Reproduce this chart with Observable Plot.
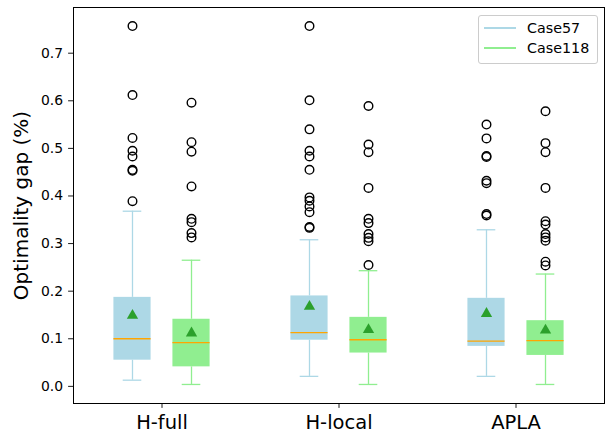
<!DOCTYPE html>
<html>
<head>
<meta charset="utf-8">
<script src="https://cdn.jsdelivr.net/npm/d3@7"></script>
<script src="https://cdn.jsdelivr.net/npm/@observablehq/plot@0.6"></script>
<style>
  body { margin: 0; background: #fff; }
  #wrap { position: relative; width: 608px; height: 437px; font-family: "DejaVu Sans", sans-serif; }
  #legend { position: absolute; left: 478px; top: 15px; width: 118px; height: 47px;
    border: 1px solid #cccccc; border-radius: 3px; background: rgba(255,255,255,0.8); }
  .lg-row { position: absolute; left: 5px; height: 20px; display: flex; align-items: center; }
  .lg-line { width: 32px; height: 2px; margin-right: 11px; }
  .lg-text { font-size: 14.3px; color: #000; }
</style>
</head>
<body>
<div id="wrap"><div id="legend"></div></div>
<script>
const groups = ["H-full", "H-local", "APLA"];
const cases = ["Case57", "Case118"];
const caseColors = ["#add8e6", "#90ee90"];
const yTicks = [0, 0.1, 0.2, 0.3, 0.4, 0.5, 0.6, 0.7];

// statistics per group: [Case57, Case118]
const whiskerLow = [[0.013, 0.004], [0.021, 0.004], [0.021, 0.004]];
const q1         = [[0.055, 0.041], [0.097, 0.070], [0.084, 0.065]];
const median     = [[0.100, 0.092], [0.113, 0.098], [0.095, 0.096]];
const q3         = [[0.187, 0.141], [0.190, 0.145], [0.185, 0.138]];
const whiskerHigh= [[0.368, 0.265], [0.308, 0.243], [0.329, 0.236]];
const means      = [[0.152, 0.115], [0.171, 0.122], [0.156, 0.121]];
const outliers = [
  [[0.757, 0.612, 0.522, 0.495, 0.483, 0.455, 0.453, 0.389],
   [0.596, 0.513, 0.493, 0.420, 0.352, 0.345, 0.322, 0.313]],
  [[0.757, 0.601, 0.540, 0.495, 0.483, 0.455, 0.397, 0.390, 0.378, 0.366, 0.335, 0.333],
   [0.589, 0.508, 0.492, 0.417, 0.352, 0.343, 0.320, 0.312, 0.305, 0.255]],
  [[0.550, 0.521, 0.484, 0.482, 0.432, 0.427, 0.362, 0.359],
   [0.578, 0.511, 0.492, 0.417, 0.347, 0.340, 0.320, 0.313, 0.306, 0.262, 0.254]]
];

const offset = 0.1667, half = 0.105, capHalf = 0.0525;
const rows = [], outRows = [];
groups.forEach((g, gi) => {
  cases.forEach((c, ci) => {
    const pos = gi + 1 + (ci === 0 ? -offset : offset);
    rows.push({group: g, case: c, pos,
      lo: whiskerLow[gi][ci], q1: q1[gi][ci], med: median[gi][ci],
      q3: q3[gi][ci], hi: whiskerHigh[gi][ci], mean: means[gi][ci]});
    outliers[gi][ci].forEach(v => outRows.push({group: g, case: c, pos, v}));
  });
});

const chart = Plot.plot({
  width: 608, height: 437,
  marginLeft: 73, marginRight: 4, marginTop: 7, marginBottom: 34,
  style: {fontFamily: "DejaVu Sans, sans-serif", background: "white"},
  x: {domain: [0.5, 3.5]},
  y: {domain: [-0.036, 0.796]},
  color: {domain: cases, range: caseColors},
  marks: [
    Plot.rect(rows, {x1: d => d.pos - half, x2: d => d.pos + half, y1: "q1", y2: "q3", fill: "case"}),
    Plot.ruleX(rows, {x: "pos", y1: "lo", y2: "q1", stroke: "case", strokeWidth: 1.3}),
    Plot.ruleX(rows, {x: "pos", y1: "q3", y2: "hi", stroke: "case", strokeWidth: 1.3}),
    Plot.ruleY(rows, {y: "lo", x1: d => d.pos - capHalf, x2: d => d.pos + capHalf, stroke: "case", strokeWidth: 1.3}),
    Plot.ruleY(rows, {y: "hi", x1: d => d.pos - capHalf, x2: d => d.pos + capHalf, stroke: "case", strokeWidth: 1.3}),
    Plot.ruleY(rows, {y: "med", x1: d => d.pos - half, x2: d => d.pos + half, stroke: "#ffa500", strokeWidth: 1.4}),
    Plot.dot(outRows, {x: "pos", y: "v", r: 4.3, stroke: "black", strokeWidth: 1.4, fill: "none"}),
    Plot.dot(rows, {x: "pos", y: "mean", symbol: "triangle", r: 4.2, fill: "#2ca02c", stroke: "none", dy: 1.5}),
    Plot.axisY({ticks: yTicks, tickFormat: d3.format(".1f"), tickSize: 4.9, tickPadding: 5.5,
      fontSize: 13.9, label: null, stroke: "black", strokeWidth: 0.9}),
    Plot.axisX({ticks: [1, 2, 3], tickFormat: d => groups[d - 1], tickSize: 4.9, tickPadding: 7,
      fontSize: 19.5, label: null, stroke: "black", strokeWidth: 0.9}),
    Plot.text(["Optimality gap (%)"], {frameAnchor: "left", textAnchor: "middle", rotate: -90, dx: -51.5, fontSize: 20, fill: "black"}),
    Plot.frame({stroke: "black", strokeWidth: 1})
  ]
});
document.getElementById("wrap").prepend(chart);

const legend = document.getElementById("legend");
cases.forEach((c, i) => {
  const row = document.createElement("div");
  row.className = "lg-row";
  row.style.top = (2 + i * 20.4) + "px";
  const line = document.createElement("div");
  line.className = "lg-line";
  line.style.background = caseColors[i];
  const txt = document.createElement("span");
  txt.className = "lg-text";
  txt.textContent = c;
  row.append(line, txt);
  legend.append(row);
});
</script>
</body>
</html>
